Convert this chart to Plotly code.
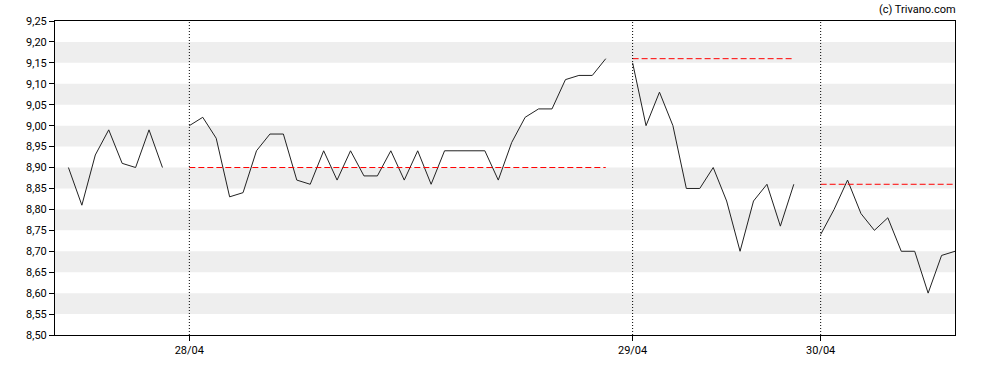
import plotly.graph_objects as go

# ---- data ----
day_labels = ["27/04", "28/04", "29/04", "30/04"]
prices_27 = [8.90, 8.81, 8.93, 8.99, 8.91, 8.90, 8.99, 8.90]
prices_28 = [9.00, 9.02, 8.97, 8.83, 8.84, 8.94, 8.98, 8.98, 8.87, 8.86,
             8.94, 8.87, 8.94, 8.88, 8.88, 8.94, 8.87, 8.94, 8.86, 8.94,
             8.94, 8.94, 8.94, 8.87, 8.96, 9.02, 9.04, 9.04, 9.11, 9.12,
             9.12, 9.16]
prices_29 = [9.15, 9.00, 9.08, 9.00, 8.85, 8.85, 8.90, 8.82, 8.70, 8.82,
             8.86, 8.76, 8.86]
prices_30 = [8.74, 8.80, 8.87, 8.79, 8.75, 8.78, 8.70, 8.70, 8.60, 8.69,
             8.70]
y_ticks = [8.50, 8.55, 8.60, 8.65, 8.70, 8.75, 8.80, 8.85, 8.90, 8.95,
           9.00, 9.05, 9.10, 9.15, 9.20, 9.25]
shown_day_ticks = ["28/04", "29/04", "30/04"]
watermark = "(c) Trivano.com"

days = [prices_27, prices_28, prices_29, prices_30]

fig = go.Figure()

# background bands
shapes = []
for i in range(1, len(y_ticks) - 1, 2):
    shapes.append(dict(type="rect", xref="paper", x0=0, x1=1, yref="y",
                       y0=y_ticks[i], y1=y_ticks[i + 1],
                       fillcolor="#eeeeee", line=dict(width=0), layer="below"))

start = 0
starts = []
xs_all, ys_all = [], []
prev_close = None
for label, vals in zip(day_labels, days):
    xs = list(range(start, start + len(vals)))
    starts.append(start)
    fig.add_trace(go.Scatter(x=xs, y=vals, mode="lines",
                             line=dict(color="#222222", width=1),
                             showlegend=False, hoverinfo="x+y"))
    if prev_close is not None:
        fig.add_trace(go.Scatter(x=[xs[0], xs[-1]], y=[prev_close, prev_close],
                                 mode="lines",
                                 line=dict(color="#ff0000", width=1, dash="6px,3px"),
                                 showlegend=False, hoverinfo="skip"))
        shapes.append(dict(type="line", xref="x", x0=xs[0], x1=xs[0],
                           yref="paper", y0=0, y1=1,
                           line=dict(color="#000000", width=1, dash="1px,2px")))
    prev_close = vals[-1]
    start += len(vals) + 1

last_x = start - 2

fig.update_layout(
    width=988, height=370, autosize=False,
    margin=dict(l=55, r=33, t=21, b=35, pad=0),
    paper_bgcolor="white", plot_bgcolor="white",
    separators=",.",
    font=dict(family="Roboto, Arial, sans-serif", size=11, color="#000000"),
    shapes=shapes,
    xaxis=dict(range=[-1, last_x], tickvals=starts[1:], ticktext=shown_day_ticks,
               showgrid=False, zeroline=False, showline=True, mirror=True,
               linecolor="#000000", linewidth=1, ticks="outside", ticklen=5,
               tickcolor="#000000", tickfont=dict(size=11)),
    yaxis=dict(range=[y_ticks[0], y_ticks[-1]], tickvals=y_ticks, tickformat=".2f",
               showgrid=False, zeroline=False, showline=True, mirror=True,
               linecolor="#000000", linewidth=1, ticks="outside", ticklen=5,
               tickcolor="#000000", tickfont=dict(size=11)),
    annotations=[dict(text=watermark, xref="paper", yref="paper", x=1, y=1,
                      xanchor="right", yanchor="bottom", xshift=3, yshift=3,
                      showarrow=False, font=dict(size=11, color="#000000"))],
)

fig.write_html("out.html")
